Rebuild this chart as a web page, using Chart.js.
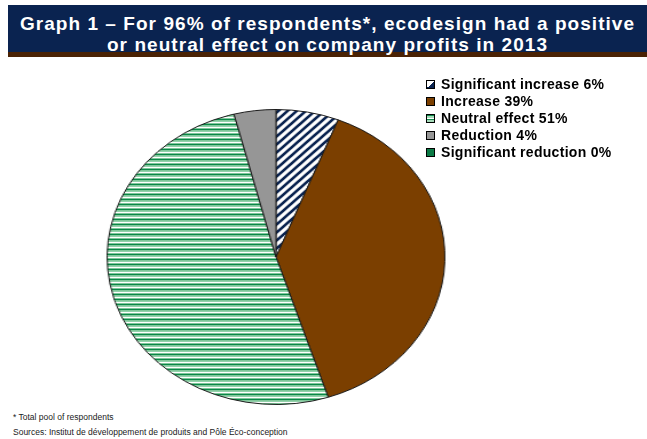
<!DOCTYPE html>
<html>
<head>
<meta charset="utf-8">
<script src="https://cdn.jsdelivr.net/npm/chart.js@4.4.1/dist/chart.umd.min.js"></script>
<style>
  html, body { margin: 0; padding: 0; background: #ffffff; width: 647px; height: 439px; overflow: hidden; font-family: "Liberation Sans", Arial, sans-serif; }
  #titlebar { position: absolute; left: 8px; top: 5px; width: 639px; height: 47px; background: #0a2350; border-bottom: 5px solid #4a2204; }
  #title { position: absolute; left: 8px; top: 5px; width: 639px; text-align: center; color: #ffffff; font-weight: bold; font-size: 19px; letter-spacing: 1.05px; line-height: 21px; padding-top: 8px; }
  #pieWrap { position: absolute; left: 127.5px; top: 109px; width: 296px; height: 296px; transform: scaleX(1.145); transform-origin: 50% 50%; }
  #legend { position: absolute; left: 426px; top: 76px; font-weight: bold; font-size: 14px; letter-spacing: 0.3px; line-height: 17px; color: #000; }
  #legend .row { display: flex; align-items: center; height: 17px; white-space: nowrap; }
  #legend .sw { width: 7px; height: 7px; border: 1px solid #000; margin-right: 6px; flex: none; }
  #notes { position: absolute; left: 13px; top: 410px; font-size: 8.5px; line-height: 15px; color: #1a1a1a; }
</style>
</head>
<body>
<div id="titlebar"></div>
<div id="title">Graph 1 – For 96% of respondents*, ecodesign had a positive<br>or neutral effect on company profits in 2013</div>
<div id="pieWrap"><canvas id="pie"></canvas></div>
<div id="legend"></div>
<div id="notes">* Total pool of respondents<br>Sources: Institut de développement de produits and Pôle Éco-conception</div>
<script>
const categories = ["Significant increase", "Increase", "Neutral effect", "Reduction", "Significant reduction"];
const values = [6, 39, 51, 4, 0];

function diagPattern() {
  const c = document.createElement('canvas');
  c.width = 8; c.height = 8;
  const g = c.getContext('2d');
  g.fillStyle = '#ffffff'; g.fillRect(0, 0, 8, 8);
  g.strokeStyle = '#0a2350'; g.lineWidth = 2.6;
  g.beginPath();
  g.moveTo(-2, 10); g.lineTo(10, -2);
  g.moveTo(-2, 2); g.lineTo(2, -2);
  g.moveTo(6, 10); g.lineTo(10, 6);
  g.stroke();
  return g.createPattern(c, 'repeat');
}
function hStripePattern() {
  const c = document.createElement('canvas');
  c.width = 4; c.height = 5;
  const g = c.getContext('2d');
  const rows = ['#0a8748', '#7fc79a', '#94d2ab', '#ffffff', '#7fc79a'];
  rows.forEach((col, i) => { g.fillStyle = col; g.fillRect(0, i, 4, 1); });
  return g.createPattern(c, 'repeat');
}

const fills = [diagPattern(), '#7b3f00', hStripePattern(), '#969696', '#0b7a45'];
const swatchCss = [
  'linear-gradient(135deg, #ffffff 50%, #0a2350 50%)',
  '#7b3f00',
  'repeating-linear-gradient(180deg, #0e8a4c 0 1px, #a6dbb9 1px 3px, #ffffff 3px 4px)',
  '#969696',
  '#0b7a45'
];

const legend = document.getElementById('legend');
categories.forEach((name, i) => {
  const row = document.createElement('div');
  row.className = 'row';
  const sw = document.createElement('span');
  sw.className = 'sw';
  sw.style.background = swatchCss[i];
  const t = document.createElement('span');
  t.textContent = name + ' ' + values[i] + '%';
  row.appendChild(sw); row.appendChild(t);
  legend.appendChild(row);
});

new Chart(document.getElementById('pie'), {
  type: 'pie',
  data: {
    labels: categories,
    datasets: [{
      data: values,
      backgroundColor: fills,
      borderColor: '#1a1a1a',
      borderWidth: 1
    }]
  },
  options: {
    responsive: true,
    maintainAspectRatio: false,
    animation: false,
    layout: { padding: 0 },
    plugins: { legend: { display: false }, tooltip: { enabled: false }, title: { display: false } }
  }
});
</script>
</body>
</html>
